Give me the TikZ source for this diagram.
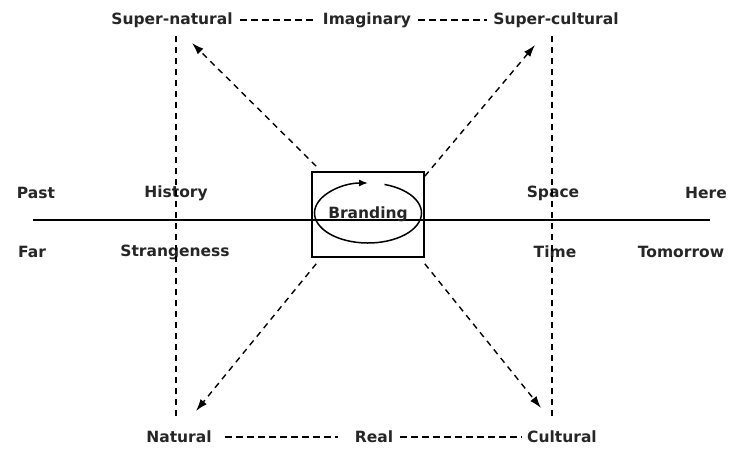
\documentclass[tikz,border=0pt]{standalone}
\usepackage{fontspec}
\setmainfont{DejaVu Sans}
\usetikzlibrary{arrows.meta}
\begin{document}
\begin{tikzpicture}[x=1pt,y=-1pt,
  lbl/.style={inner sep=1pt,text=black!85,font=\fontsize{15.5}{17}\selectfont\bfseries},
  vdash/.style={line width=1.5pt,dash pattern=on 6pt off 5pt},
  tdash/.style={line width=1.8pt,dash pattern=on 7pt off 4pt},
  darrow/.style={line width=1.4pt,dash pattern=on 6pt off 5pt,-{Latex[length=12pt,width=8pt]}}]
\useasboundingbox (0,0) rectangle (734,458);
% axis
\coordinate (L) at (33,220);
\coordinate (R) at (710,220);
\draw[line width=1.2pt] (L) -- (R);
% box and ellipse
\node[draw,line width=1.6pt,minimum width=112pt,minimum height=85pt,inner sep=0pt] (box) at (368,214.5) {};
\node[lbl] (brand) at (368,214) {Branding};
\draw[line width=1.5pt,-{Latex[length=9pt,width=7pt]}] (368,213) ++(-72:53.5 and 30) arc[start angle=-72,end angle=270,x radius=53.5,y radius=30];
% top labels
\node[lbl] (sn) at (172,20) {Super-natural};
\node[lbl] (im) at (367,20) {Imaginary};
\node[lbl] (sc) at (556,20) {Super-cultural};
\draw[tdash] ([xshift=6pt]sn.east) -- ([xshift=-5pt]im.west);
\draw[tdash] ([xshift=6pt]im.east) -- ([xshift=-5pt]sc.west);
% bottom labels
\node[lbl] (na) at (179,437) {Natural};
\node[lbl] (re) at (374,437) {Real};
\node[lbl] (cu) at (562,437) {Cultural};
\draw[tdash] ([xshift=12pt]na.east) -- ([xshift=-16pt]re.west);
\draw[tdash] ([xshift=6pt]re.east) -- ([xshift=-4pt]cu.west);
% side labels
\node[lbl] (past) at (36,193) {Past};
\node[lbl] (hist) at (176,193) {History};
\node[lbl] (spac) at (553,193) {Space};
\node[lbl] (here) at (706,193) {Here};
\node[lbl] (far) at (32,252) {Far};
\node[lbl] (str) at (175,252) {Strangeness};
\node[lbl] (time) at (555,252) {Time};
\node[lbl] (tom) at (681,252) {Tomorrow};
% vertical dashed lines
\coordinate (v1t) at (176,36);
\coordinate (v1b) at (176,420);
\coordinate (v2t) at (552,36);
\coordinate (v2b) at (552,420);
\draw[vdash] (v1t) -- (v1b);
\draw[vdash] (v2t) -- (v2b);
% diagonal arrows
\coordinate (a1) at (192,43);
\coordinate (a2) at (535,45);
\coordinate (a3) at (196,411);
\coordinate (a4) at (541,408);
\draw[darrow] (box.north west) ++(5,-5) -- (a1);
\draw[darrow] (box.north east) ++(0,5) -- (a2);
\draw[darrow] (box.south west) ++(5,6) -- (a3);
\draw[darrow] (box.south east) ++(0,6) -- (a4);
\end{tikzpicture}
\end{document}
